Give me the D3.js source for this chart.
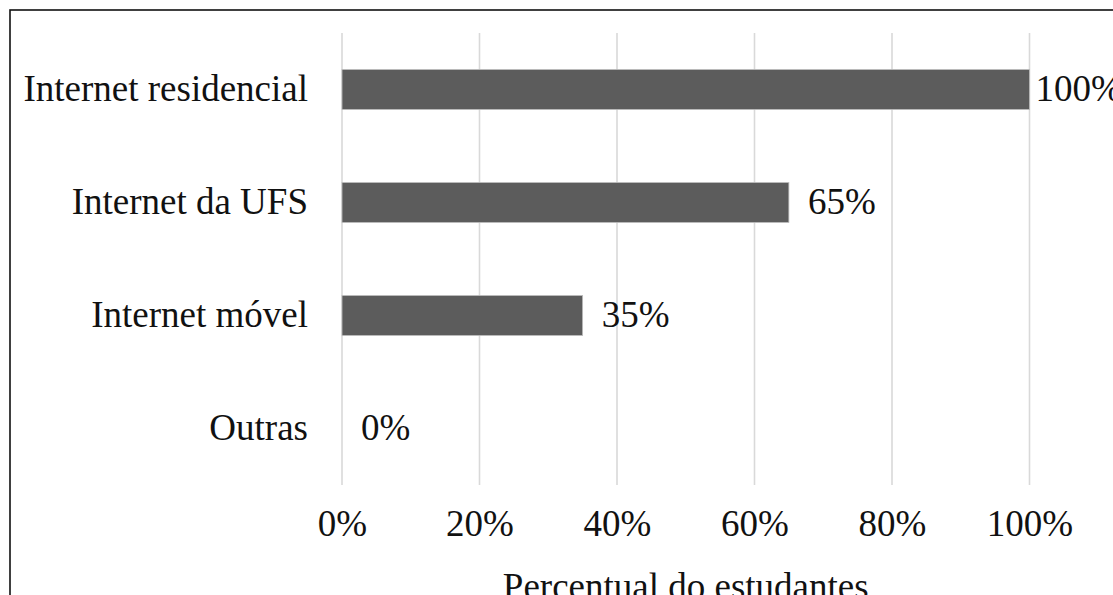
<!DOCTYPE html>
<html>
<head>
<meta charset="utf-8">
<script src="https://cdn.jsdelivr.net/npm/d3@7"></script>
<style>
  html, body { margin: 0; padding: 0; background: #fff; overflow: hidden; }
  svg { display: block; }
  text { font-family: "Liberation Serif", "Times New Roman", serif; fill: #111; }
</style>
</head>
<body>
<svg id="chart" width="1113" height="595"></svg>
<script>
// Internet access sources used by students
const categories = ["Internet residencial", "Internet da UFS", "Internet móvel", "Outras"];
const values = [100, 65, 35, 0];
const tickValues = [0, 20, 40, 60, 80, 100];
const axisTitle = "Percentual do estudantes";

const W = 1113, H = 595;
const plot = { left: 342, right: 1029.5, top: 33, bottom: 485 };
const fontSize = 37;

const svg = d3.select("#chart");

// outer frame
svg.append("rect")
  .attr("x", 10).attr("y", 10)
  .attr("width", W + 20).attr("height", H + 20)
  .attr("fill", "none").attr("stroke", "#111").attr("stroke-width", 1.6);

const x = d3.scaleLinear().domain([0, 100]).range([plot.left, plot.right]);
const y = d3.scaleBand().domain(categories).range([plot.top, plot.bottom])
  .paddingInner(0.646).paddingOuter(0.323);

// vertical gridlines
svg.append("g").selectAll("line").data(tickValues).join("line")
  .attr("x1", d => x(d)).attr("x2", d => x(d))
  .attr("y1", plot.top).attr("y2", plot.bottom)
  .attr("stroke", "#d9d9d9").attr("stroke-width", 1.6);

// bottom axis labels
const xAxis = d3.axisBottom(x).tickValues(tickValues).tickFormat(d => d + "%").tickSize(0).tickPadding(0);
const gx = svg.append("g").attr("transform", `translate(0,${plot.bottom})`).call(xAxis);
gx.select(".domain").remove();
gx.selectAll("text")
  .attr("y", 51).attr("dy", 0)
  .style("font-family", "'Liberation Serif', 'Times New Roman', serif")
  .style("font-size", fontSize + "px").attr("fill", "#111");

// left category labels
const yAxis = d3.axisLeft(y).tickSize(0).tickPadding(34);
const gy = svg.append("g").attr("transform", `translate(${plot.left},0)`).call(yAxis);
gy.select(".domain").remove();
gy.selectAll("text")
  .attr("dy", "0.3em")
  .style("font-family", "'Liberation Serif', 'Times New Roman', serif")
  .style("font-size", fontSize + "px").attr("fill", "#111");

// bars
svg.append("g").selectAll("rect").data(values).join("rect")
  .attr("x", x(0))
  .attr("y", (d, i) => y(categories[i]))
  .attr("width", d => x(d) - x(0))
  .attr("height", y.bandwidth())
  .attr("fill", "#5c5c5c")
  .attr("stroke", "#bdbdbd").attr("stroke-width", d => d > 0 ? 0.8 : 0);

// value labels (pulled in close to the bar end when they run past the frame)
svg.append("g").selectAll("text").data(values).join("text")
  .attr("x", d => x(d) + 19)
  .attr("y", (d, i) => y(categories[i]) + y.bandwidth() / 2)
  .attr("dy", "0.3em")
  .style("font-size", fontSize + "px")
  .text(d => d + "%")
  .each(function (d) {
    const w = this.getComputedTextLength();
    const xx = +this.getAttribute("x");
    if (xx + w > W) this.setAttribute("x", x(d) + 6);
  });

// axis title
svg.append("text")
  .attr("x", (plot.left + plot.right) / 2)
  .attr("y", 599)
  .attr("text-anchor", "middle")
  .style("font-size", fontSize + "px")
  .text(axisTitle);
</script>
</body>
</html>
